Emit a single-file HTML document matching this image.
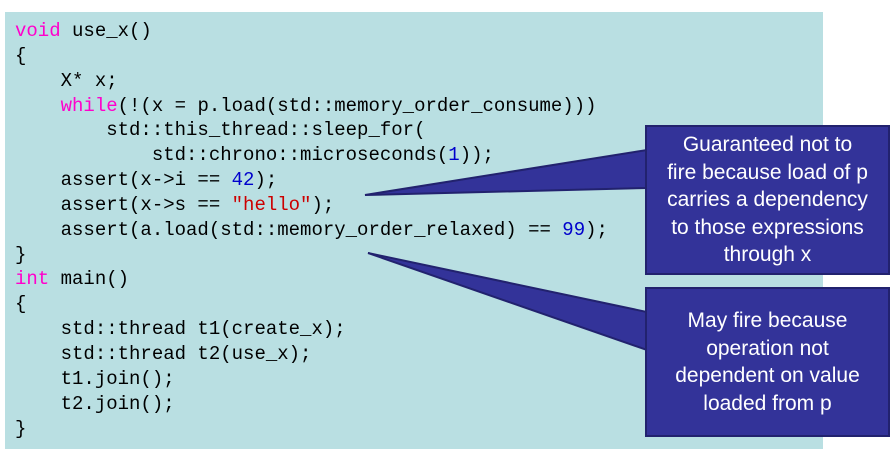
<!DOCTYPE html>
<html><head><style>
body{margin:0;width:894px;height:454px;background:#fff;position:relative;overflow:hidden}
.bg{position:absolute;left:5px;top:12px;width:818px;height:437px;background:#b9dfe2}
pre{position:absolute;left:15px;top:19px;margin:0;font-family:"Liberation Mono",monospace;font-size:19px;line-height:24.85px;color:#000}
.k{color:#ff00cc}.s{color:#cc0000}.n{color:#0000cc}
.c{position:absolute;left:645px;width:245px;background:#333399;border:2px solid #22226e;color:#fff;font-family:"Liberation Sans",sans-serif;font-size:21px;line-height:27.5px;text-align:center;box-sizing:border-box;display:flex;align-items:center;justify-content:center}
svg{position:absolute;left:0;top:0}
</style></head><body>
<div class="bg"></div>
<pre><span class="k">void</span> use_x()
{
    X* x;
    <span class="k">while</span>(!(x = p.load(std::memory_order_consume)))
        std::this_thread::sleep_for(
            std::chrono::microseconds(<span class="n">1</span>));
    assert(x-&gt;i == <span class="n">42</span>);
    assert(x-&gt;s == <span class="s">"hello"</span>);
    assert(a.load(std::memory_order_relaxed) == <span class="n">99</span>);
}
<span class="k">int</span> main()
{
    std::thread t1(create_x);
    std::thread t2(use_x);
    t1.join();
    t2.join();
}</pre>
<svg width="894" height="454">
<polygon points="365,195 647,150 647,188" fill="#333399" stroke="#22226e" stroke-width="2"/>
<polygon points="368,253 647,312 647,350" fill="#333399" stroke="#22226e" stroke-width="2"/>
</svg>
<div class="c" style="top:125px;height:150px">Guaranteed not to<br>fire because load of p<br>carries a dependency<br>to those expressions<br>through x</div>
<div class="c" style="top:287px;height:150px">May fire because<br>operation not<br>dependent on value<br>loaded from p</div>
</body></html>
